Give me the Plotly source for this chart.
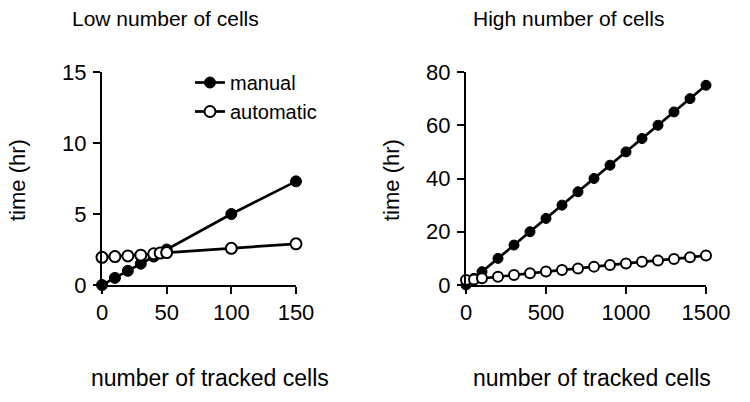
import plotly.graph_objects as go

# ---- data ----
low_cells = [0, 10, 20, 30, 40, 45, 50, 100, 150]
low_manual = [0, 0.5, 1.0, 1.5, 2.0, 2.25, 2.5, 5.0, 7.3]
low_auto = [1.95, 2.0, 2.05, 2.1, 2.2, 2.25, 2.28, 2.58, 2.9]

high_cells = [0, 50, 100, 200, 300, 400, 500, 600, 700, 800, 900, 1000,
              1100, 1200, 1300, 1400, 1500]
high_manual = [0, 2.5, 5, 10, 15, 20, 25, 30, 35, 40, 45, 50, 55, 60, 65, 70, 75]
high_auto = [1.9, 2.1, 2.5, 3.1, 3.75, 4.4, 5.1, 5.6, 6.2, 6.9, 7.5, 8.1,
             8.7, 9.2, 9.8, 10.4, 11.1]

low_xticks = [0, 50, 100, 150]
low_yticks = [0, 5, 10, 15]
high_xticks = [0, 500, 1000, 1500]
high_yticks = [0, 20, 40, 60, 80]

titles = ["Low number of cells", "High number of cells"]
x_title = "number of tracked cells"
y_title = "time (hr)"

FONT = "Liberation Sans, Arial, Helvetica, sans-serif"
W, H = 750, 402

fig = go.Figure()

def add_pair(x, man, auto, xa, ya, show, size):
    fig.add_trace(go.Scatter(
        x=x, y=man, mode="lines+markers", name="manual",
        line=dict(color="black", width=2.7),
        marker=dict(symbol="circle", size=size, color="black",
                    line=dict(color="black", width=1)),
        xaxis=xa, yaxis=ya, showlegend=show, cliponaxis=False))
    fig.add_trace(go.Scatter(
        x=x, y=auto, mode="lines+markers", name="automatic",
        line=dict(color="black", width=2.7),
        marker=dict(symbol="circle", size=size, color="white",
                    line=dict(color="black", width=2)),
        xaxis=xa, yaxis=ya, showlegend=show, cliponaxis=False))

add_pair(low_cells, low_manual, low_auto, "x", "y", True, 11)
add_pair(high_cells, high_manual, high_auto, "x2", "y2", False, 10)

ydom = [(H - 285) / H, (H - 72) / H]
axis_common = dict(showline=True, linecolor="black", linewidth=2,
                   ticks="outside", ticklen=7, tickwidth=2, tickcolor="black",
                   showgrid=False, zeroline=False, automargin=False,
                   tickfont=dict(family=FONT, size=22, color="black"))

fig.update_layout(
    width=W, height=H,
    margin=dict(l=0, r=0, t=0, b=0, autoexpand=False),
    paper_bgcolor="white", plot_bgcolor="white",
    font=dict(family=FONT, color="black"),
    xaxis=dict(domain=[102 / W, 296 / W], range=[0, 150], tickvals=low_xticks,
               anchor="y", ticklabelstandoff=0, **axis_common),
    yaxis=dict(domain=ydom, range=[0, 15], tickvals=low_yticks,
               anchor="x", ticklabelstandoff=2, **axis_common),
    xaxis2=dict(domain=[466 / W, 706 / W], range=[0, 1500], tickvals=high_xticks,
                anchor="y2", ticklabelstandoff=0, **axis_common),
    yaxis2=dict(domain=ydom, range=[0, 80], tickvals=high_yticks,
                anchor="x2", ticklabelstandoff=2, **axis_common),
    legend=dict(x=190 / W, y=(H - 63) / H, xanchor="left", yanchor="top",
                bgcolor="rgba(0,0,0,0)", font=dict(family=FONT, size=20),
                tracegroupgap=0, itemwidth=30),
    showlegend=True,
)

ann = []
for cx, t in [(165, titles[0]), (568, titles[1])]:
    ann.append(dict(x=cx / W, y=(H - 18) / H, xref="paper", yref="paper",
                    text=t, showarrow=False, font=dict(size=21, family=FONT),
                    xanchor="center", yanchor="middle"))
for cx in [210, 592]:
    ann.append(dict(x=cx / W, y=(H - 378) / H, xref="paper", yref="paper",
                    text=x_title, showarrow=False, font=dict(size=23, family=FONT),
                    xanchor="center", yanchor="middle"))
for cx in [18, 392]:
    ann.append(dict(x=cx / W, y=(H - 180) / H, xref="paper", yref="paper",
                    text=y_title, showarrow=False, textangle=-90,
                    font=dict(size=22, family=FONT),
                    xanchor="center", yanchor="middle"))
fig.update_layout(annotations=ann)

fig.write_html("out.html",
               config={"displayModeBar": False},
               post_script="document.body.style.margin='0px';"
                           "document.body.style.overflow='hidden';")
